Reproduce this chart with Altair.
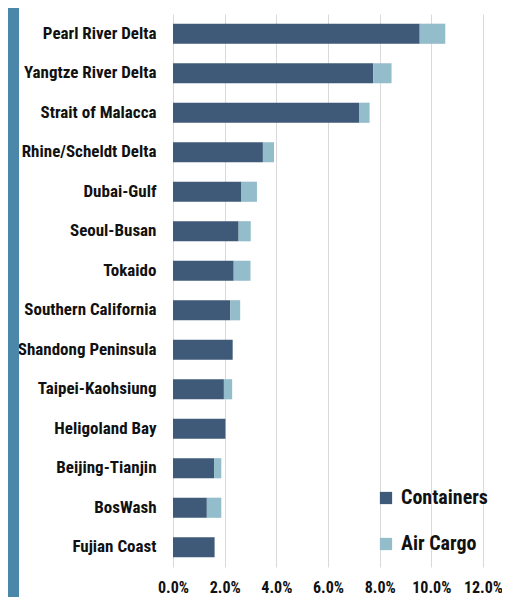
import altair as alt
import pandas as pd

regions = ["Pearl River Delta", "Yangtze River Delta", "Strait of Malacca",
           "Rhine/Scheldt Delta", "Dubai-Gulf", "Seoul-Busan", "Tokaido",
           "Southern California", "Shandong Peninsula", "Taipei-Kaohsiung",
           "Heligoland Bay", "Beijing-Tianjin", "BosWash", "Fujian Coast"]
containers = [9.55, 7.75, 7.20, 3.48, 2.65, 2.54, 2.35, 2.22, 2.31, 1.97, 2.03, 1.59, 1.31, 1.61]
air_cargo = [0.99, 0.71, 0.41, 0.43, 0.60, 0.47, 0.65, 0.38, 0.0, 0.32, 0.0, 0.28, 0.56, 0.0]
series = ["Containers", "Air Cargo"]
colors = ["#3e5a78", "#93bdca"]
ticks = [0, 2, 4, 6, 8, 10, 12]

rows = []
for r, c, a in zip(regions, containers, air_cargo):
    rows.append({"region": r, "type": series[0], "value": c, "ord": 0})
    rows.append({"region": r, "type": series[1], "value": a, "ord": 1})
df = pd.DataFrame(rows)

FONT = "Roboto Condensed, Arial Narrow, Liberation Sans Narrow, DejaVu Sans Condensed, sans-serif"

bars = alt.Chart(df).mark_bar().encode(
    y=alt.Y("region:N", sort=regions,
            scale=alt.Scale(paddingInner=0.49, paddingOuter=0.245),
            axis=alt.Axis(title=None, ticks=False, domain=False, grid=False,
                          labelPadding=17, labelFontSize=17, labelFont=FONT,
                          labelFontWeight="bold", labelColor="#111111", labelLimit=300)),
    x=alt.X("value:Q", stack="zero",
            scale=alt.Scale(domain=[0, 12], nice=False),
            axis=alt.Axis(title=None, values=ticks, ticks=False, domain=False,
                          grid=True, gridColor="#d9d9d9", gridWidth=1,
                          labelExpr="format(datum.value, '.1f') + '%'",
                          labelOverlap=False, labelFlush=False,
                          labelPadding=12, labelFontSize=16, labelFont=FONT,
                          labelFontWeight="bold", labelColor="#111111")),
    color=alt.Color("type:N", scale=alt.Scale(domain=series, range=colors),
                    legend=alt.Legend(title=None, orient="none", legendX=203, legendY=474,
                                      symbolType="square", symbolSize=150,
                                      symbolStrokeWidth=0,
                                      labelFont=FONT, labelFontSize=20,
                                      labelFontWeight="bold", labelColor="#111111",
                                      labelOffset=5, rowPadding=26)),
    order=alt.Order("ord:Q"),
)

strip = alt.Chart(pd.DataFrame({"a": [0]})).mark_rect(color="#4b87a8").encode(
    x=alt.value(-165), x2=alt.value(-154), y=alt.value(-6), y2=alt.value(584)
)

chart = alt.layer(strip, bars).properties(
    width=310, height=553,
    autosize=alt.AutoSizeParams(type="none"),
    padding={"left": 165, "top": 6, "right": 19, "bottom": 30},
    background="white",
).configure_view(stroke=None)

chart.save("out.html", embed_options={"renderer": "svg", "actions": False})
